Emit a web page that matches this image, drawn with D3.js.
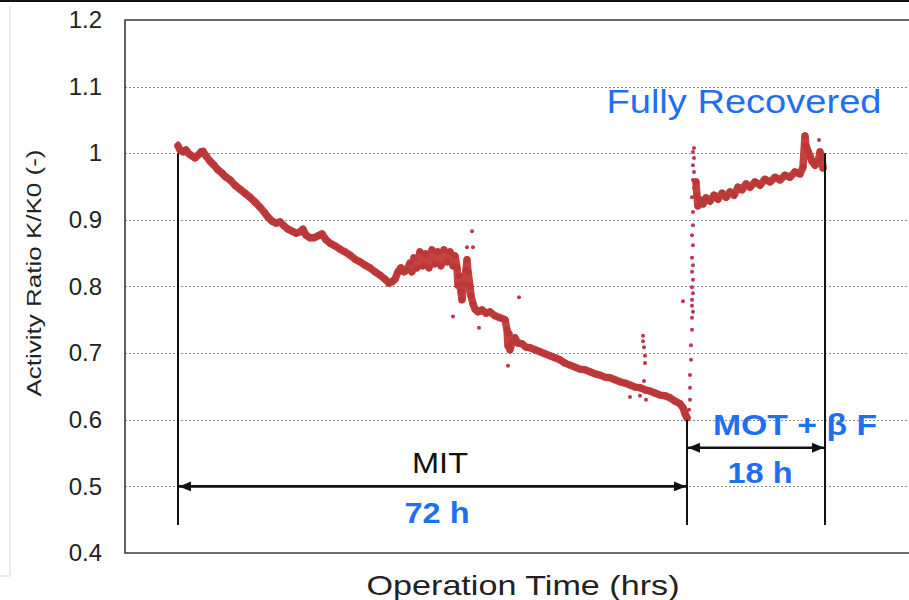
<!DOCTYPE html>
<html>
<head>
<meta charset="utf-8">
<script src="https://cdn.jsdelivr.net/npm/d3@7"></script>
<style>
  html, body { margin: 0; padding: 0; background: #fff; }
  svg { display: block; font-family: "Liberation Sans", Arial, sans-serif; }
</style>
</head>
<body>
<svg id="chart" width="909" height="600"></svg>
<script>
// ---- Y axis ticks ----
const yTickValues = [0.4, 0.5, 0.6, 0.7, 0.8, 0.9, 1.0, 1.1, 1.2];
const yTickLabels = ["0.4", "0.5", "0.6", "0.7", "0.8", "0.9", "1", "1.1", "1.2"];

// ---- MIT phase: activity ratio vs operation time (h) ----
const mitHours = [0, 0.28, 0.71, 1.13, 1.56, 1.98, 2.40, 2.83, 3.25, 3.54, 3.96, 4.53, 5.09, 5.66, 6.22, 6.79,
  7.36, 8.06, 8.77, 9.48, 10.18, 10.89, 11.60, 12.31, 12.73, 13.30, 13.86, 14.43, 14.99, 15.56, 16.13, 16.69,
  17.26, 17.68, 18.11, 18.67, 19.24, 19.80, 20.37, 20.94, 21.50, 22.21, 22.92, 23.62, 24.33, 25.04, 25.74,
  26.45, 27.16, 27.87, 28.57, 29.28, 29.85, 30.27, 30.70, 31.12, 31.54, 31.97, 32.39, 32.82, 33.10, 33.38,
  33.81, 34.23, 34.66, 35.08, 35.50, 35.93, 36.35, 36.78, 37.20, 37.63, 38.05, 38.48, 38.90, 39.18,
  39.47, 39.61, 39.75, 40.03, 40.17, 40.46, 40.74, 40.88, 41.02, 41.30, 41.45, 41.73, 42.01, 42.44, 43.00,
  43.57, 44.13, 44.84, 45.55, 46.26, 46.54, 46.68, 46.82, 46.96, 47.25, 47.67, 48.09, 48.66, 49.23, 49.79,
  50.50, 51.21, 51.91, 52.62, 53.33, 54.04, 54.74, 55.45, 56.16, 56.86, 57.57, 58.28, 58.99, 59.69, 60.40,
  61.11, 61.82, 62.52, 63.23, 63.94, 64.65, 65.35, 66.06, 66.77, 67.47, 68.18, 68.89, 69.60, 70.31, 71.01,
  71.44, 71.72, 72.00];
const mitRatio = [1.011, 1.005, 1.002, 1.005, 0.999, 0.996, 0.993, 0.997, 1.002, 1.003, 0.996, 0.988, 0.982,
  0.975, 0.970, 0.964, 0.960, 0.952, 0.946, 0.940, 0.934, 0.927, 0.919, 0.910, 0.904, 0.898, 0.895, 0.897,
  0.891, 0.886, 0.883, 0.880, 0.882, 0.886, 0.877, 0.873, 0.873, 0.876, 0.879, 0.870, 0.865, 0.861, 0.856,
  0.852, 0.847, 0.841, 0.837, 0.832, 0.828, 0.822, 0.817, 0.811, 0.805, 0.807, 0.811, 0.822, 0.828, 0.822,
  0.825, 0.835, 0.822, 0.843, 0.828, 0.852, 0.831, 0.849, 0.828, 0.855, 0.834, 0.852, 0.831, 0.855, 0.837,
  0.852, 0.831, 0.846,
  0.828, 0.802, 0.816, 0.792, 0.780, 0.804, 0.825, 0.840, 0.822, 0.801, 0.786, 0.774, 0.766, 0.762, 0.765,
  0.760, 0.762, 0.756, 0.753, 0.750, 0.735, 0.711, 0.729, 0.705, 0.717, 0.723, 0.715, 0.714, 0.709, 0.708,
  0.705, 0.702, 0.699, 0.696, 0.693, 0.690, 0.685, 0.682, 0.679, 0.676, 0.675, 0.672, 0.669, 0.667, 0.664,
  0.663, 0.660, 0.657, 0.655, 0.652, 0.649, 0.648, 0.645, 0.643, 0.640, 0.637, 0.636, 0.633, 0.628, 0.624,
  0.618, 0.609, 0.603];

// ---- Transition readings right after the switch to MOT + beta F ----
const jumpHours = [72.91, 72.78, 72.91, 72.78, 72.91, 72.78, 72.91, 72.65, 72.78, 72.78, 72.65, 72.78, 72.65,
  72.78, 72.65, 72.78, 72.65, 72.78, 72.65, 72.65, 72.78, 72.65, 72.65, 72.52, 72.52, 72.39, 72.39, 72.39, 72.26];
const jumpRatio = [1.008, 1.002, 0.993, 0.982, 0.972, 0.960, 0.948, 0.934, 0.912, 0.892, 0.877, 0.862, 0.843,
  0.832, 0.822, 0.810, 0.799, 0.790, 0.780, 0.771, 0.762, 0.753, 0.735, 0.712, 0.690, 0.667, 0.648, 0.630, 0.615];

// ---- MOT + beta F phase ----
const motHours = [73.17, 73.30, 73.43, 73.70, 74.09, 74.48, 75.00, 75.52, 76.04, 76.57, 77.09, 77.61, 78.13,
  78.65, 79.17, 79.70, 80.22, 80.87, 81.52, 82.17, 82.83, 83.48, 84.13, 84.78, 85.43, 86.09, 86.74, 87.13,
  87.39, 87.52, 87.78, 88.04, 88.30, 88.70, 89.09, 89.35, 89.61, 89.74];
const motRatio = [0.957, 0.936, 0.921, 0.930, 0.924, 0.933, 0.928, 0.937, 0.931, 0.940, 0.934, 0.942, 0.937,
  0.949, 0.945, 0.954, 0.949, 0.957, 0.952, 0.961, 0.957, 0.964, 0.960, 0.967, 0.964, 0.972, 0.969, 0.979,
  1.026, 1.011, 1.003, 0.996, 0.988, 0.982, 0.987, 1.002, 0.993, 0.978];

// ---- Isolated readings ----
const strayHours = [0, 41.59, 40.88, 41.73, 38.90, 42.58, 46.68, 48.24, 65.78, 65.78, 65.92, 66.06, 66.06,
  65.92, 66.06, 66.20, 63.94, 65.35, 71.43, 89.22];
const strayRatio = [1.015, 0.883, 0.859, 0.859, 0.755, 0.738, 0.681, 0.784, 0.726, 0.718, 0.709, 0.696, 0.685,
  0.658, 0.642, 0.630, 0.634, 0.636, 0.778, 1.020];

// ---- Phase boundaries and durations ----
const phaseHours = [0, 72, 90];
const phaseTop = [1.0, 0.6, 1.0];
const phaseBottom = 0.442;
const mitSpan = [0, 72];      // 72 h
const motSpan = [72, 90];     // 18 h
const mitArrowLevel = 0.5;
const motArrowLevel = 0.558;

const svg = d3.select("#chart");
const W = 909, H = 600;
const plot = { left: 125, top: 20, right: 930, bottom: 553 };

const x = d3.scaleLinear().domain([0, 72, 90]).range([178, 687, 825]);
const y = d3.scaleLinear().domain([0.4, 1.2]).range([plot.bottom, plot.top]);

const blue = "#1f6ff0";
const red = "#c6423f";

// page border pieces
svg.append("line").attr("x1", 0).attr("x2", W).attr("y1", 1).attr("y2", 1)
  .attr("stroke", "#111").attr("stroke-width", 2);
svg.append("path").attr("d", "M10,6 V576 H0").attr("fill", "none")
  .attr("stroke", "#d6d6d6").attr("stroke-width", 1);

// gridlines
svg.append("g").selectAll("line")
  .data(yTickValues.filter(v => v > 0.4 && v < 1.2))
  .join("line")
  .attr("x1", plot.left).attr("x2", W)
  .attr("y1", d => Math.round(y(d)) + 0.5).attr("y2", d => Math.round(y(d)) + 0.5)
  .attr("stroke", "#8a8a8a").attr("stroke-width", 1).attr("stroke-dasharray", "2,2");

// plot frame
svg.append("path")
  .attr("d", `M${W + 5},${plot.top} H${plot.left} V${plot.bottom} H${W + 5}`)
  .attr("fill", "none").attr("stroke", "#3a3a3a").attr("stroke-width", 1.6);

// y axis labels
const yAxis = d3.axisLeft(y).tickValues(yTickValues)
  .tickFormat((d, i) => yTickLabels[i]).tickSize(0).tickPadding(23);
const gy = svg.append("g").attr("transform", `translate(${plot.left},0)`).call(yAxis);
gy.select(".domain").remove();
gy.selectAll("text").attr("font-size", 24).attr("fill", "#222")
  .attr("font-family", "'Liberation Sans', Arial, sans-serif");

// axis titles
svg.append("text")
  .attr("transform", "translate(41,273) rotate(-90)")
  .attr("text-anchor", "middle").attr("font-size", 21).attr("fill", "#222")
  .attr("textLength", 247).attr("lengthAdjust", "spacingAndGlyphs")
  .text("Activity Ratio K/K0 (-)");
svg.append("text")
  .attr("x", 523).attr("y", 595)
  .attr("text-anchor", "middle").attr("font-size", 28).attr("fill", "#222")
  .attr("textLength", 313).attr("lengthAdjust", "spacingAndGlyphs")
  .text("Operation  Time (hrs)");

// data traces
const line = d3.line().x(d => x(d[0])).y(d => y(d[1]));
const mitPts = mitHours.map((h, i) => [h, mitRatio[i]]);
const motPts = motHours.map((h, i) => [h, motRatio[i]]);
const jumpPts = jumpHours.map((h, i) => [h, jumpRatio[i]]);
const strayPts = strayHours.map((h, i) => [h, strayRatio[i]]);

const traces = svg.append("g");
[mitPts, motPts].forEach(pts => {
  traces.append("path").datum(pts).attr("d", line)
    .attr("fill", "none").attr("stroke", red).attr("stroke-width", 7.5)
    .attr("stroke-linejoin", "round").attr("stroke-linecap", "round");
  traces.append("g").selectAll("circle").data(pts).join("circle")
    .attr("cx", d => x(d[0])).attr("cy", d => y(d[1])).attr("r", 3.4)
    .attr("fill", "#bb3838");
});
traces.append("g").selectAll("circle").data(jumpPts).join("circle")
  .attr("cx", d => x(d[0])).attr("cy", d => y(d[1])).attr("r", 2)
  .attr("fill", "#c2344f");
traces.append("g").selectAll("circle").data(strayPts).join("circle")
  .attr("cx", d => x(d[0])).attr("cy", d => y(d[1])).attr("r", 2)
  .attr("fill", "#c2364a");

// phase boundaries
const ann = svg.append("g");
ann.selectAll("line.bound").data(phaseHours).join("line").attr("class", "bound")
  .attr("x1", d => x(d)).attr("x2", d => x(d))
  .attr("y1", (d, i) => y(phaseTop[i])).attr("y2", y(phaseBottom))
  .attr("stroke", "#111").attr("stroke-width", 2);

// double arrows
const defs = svg.append("defs");
defs.append("marker").attr("id", "ah").attr("viewBox", "0 0 12 10")
  .attr("refX", 12).attr("refY", 5).attr("markerWidth", 12).attr("markerHeight", 10)
  .attr("markerUnits", "userSpaceOnUse").attr("orient", "auto-start-reverse")
  .append("path").attr("d", "M0,0 L12,5 L0,10 Z").attr("fill", "#111");

[[mitSpan, mitArrowLevel], [motSpan, motArrowLevel]].forEach(([span, lvl]) => {
  ann.append("line")
    .attr("x1", x(span[0]) + 1).attr("x2", x(span[1]) - 1)
    .attr("y1", y(lvl)).attr("y2", y(lvl))
    .attr("stroke", "#111").attr("stroke-width", 2.6)
    .attr("marker-start", "url(#ah)").attr("marker-end", "url(#ah)");
});

// annotation text
ann.append("text").attr("x", 440).attr("y", 473).attr("text-anchor", "middle")
  .attr("font-size", 30).attr("fill", "#111")
  .attr("textLength", 56).attr("lengthAdjust", "spacingAndGlyphs").text("MIT");
ann.append("text").attr("x", 437).attr("y", 523).attr("text-anchor", "middle")
  .attr("font-size", 30).attr("font-weight", "bold").attr("fill", blue)
  .attr("textLength", 65).attr("lengthAdjust", "spacingAndGlyphs")
  .text(`${mitSpan[1] - mitSpan[0]} h`);
ann.append("text").attr("x", 795).attr("y", 435).attr("text-anchor", "middle")
  .attr("font-size", 30).attr("font-weight", "bold").attr("fill", blue)
  .attr("textLength", 164).attr("lengthAdjust", "spacingAndGlyphs")
  .text("MOT + β F");
ann.append("text").attr("x", 760).attr("y", 483).attr("text-anchor", "middle")
  .attr("font-size", 30).attr("font-weight", "bold").attr("fill", blue)
  .attr("textLength", 65).attr("lengthAdjust", "spacingAndGlyphs")
  .text(`${motSpan[1] - motSpan[0]} h`);
ann.append("text").attr("x", 744).attr("y", 113).attr("text-anchor", "middle")
  .attr("font-size", 34).attr("fill", blue)
  .attr("textLength", 275).attr("lengthAdjust", "spacingAndGlyphs")
  .text("Fully Recovered");
</script>
</body>
</html>
